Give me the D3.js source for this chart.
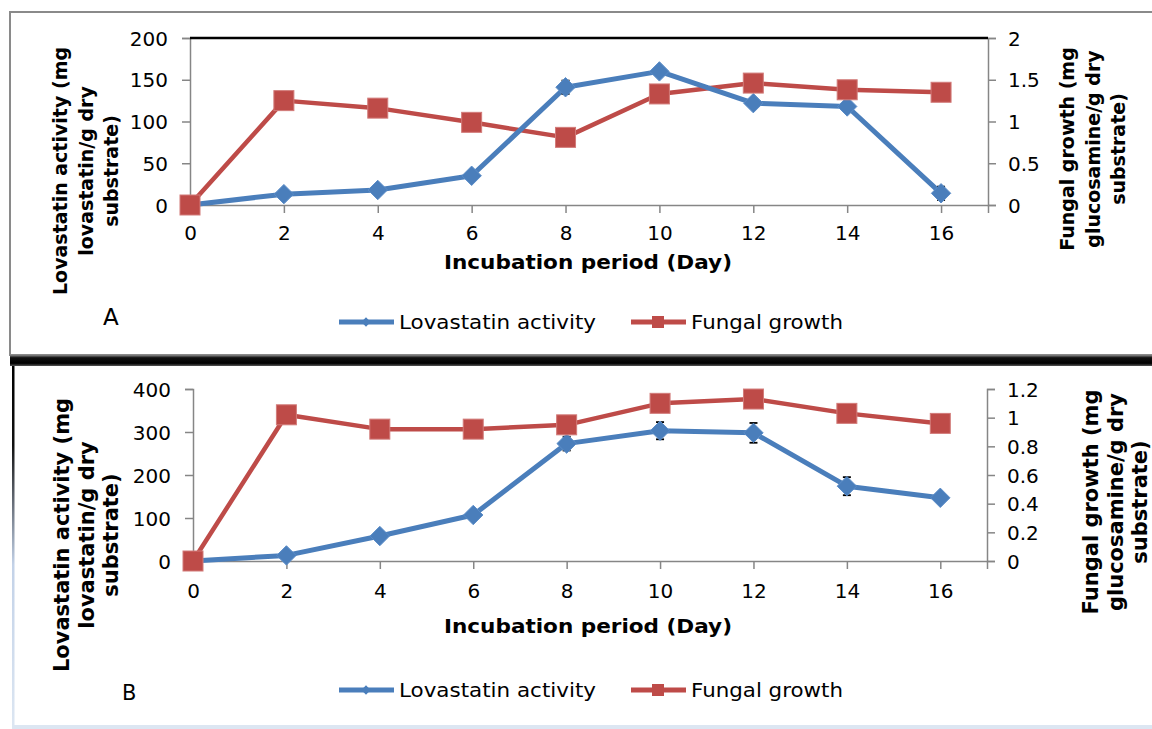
<!DOCTYPE html>
<html>
<head>
<meta charset="utf-8">
<script src="https://cdn.jsdelivr.net/npm/d3@7/dist/d3.min.js"></script>
<style>
  html, body { margin: 0; padding: 0; background: #ffffff; }
  svg { display: block; }
  text { font-family: "DejaVu Sans", Verdana, sans-serif; fill: #000; }
</style>
</head>
<body>
<svg id="chart" width="1152" height="729"></svg>
<script>
// ---- Data ----
const days = [0, 2, 4, 6, 8, 10, 12, 14, 16];
const xTicks = [0, 2, 4, 6, 8, 10, 12, 14, 16];

// Panel A
const lovastatinA = [0, 13, 18, 35, 141, 160, 122, 118, 14];
const lovastatinErrA = [0, 0, 0, 0, 8, 0, 0, 0, 8];
const fungalA = [0, 1.25, 1.16, 0.99, 0.81, 1.33, 1.46, 1.38, 1.35];
const leftTicksA = [0, 50, 100, 150, 200];
const rightTicksA = [0, 0.5, 1, 1.5, 2];

// Panel B
const lovastatinB = [0, 13, 58, 107, 273, 303, 298, 174, 147];
const lovastatinErrB = [0, 0, 0, 0, 16, 20, 23, 21, 0];
const fungalB = [0, 1.02, 0.92, 0.92, 0.95, 1.10, 1.13, 1.03, 0.96];
const leftTicksB = [0, 100, 200, 300, 400];
const rightTicksB = [0, 0.2, 0.4, 0.6, 0.8, 1, 1.2];

const seriesNames = ["Lovastatin activity", "Fungal growth"];
const xTitle = "Incubation period (Day)";
const leftTitleLines = ["Lovastatin activity (mg", "lovastatin/g dry", "substrate)"];
const rightTitleLines = ["Fungal growth (mg", "glucosamine/g dry", "substrate)"];
const panelLabels = ["A", "B"];

// ---- Styles ----
const BLUE = "#4a7ebb";
const RED = "#be4b48";
const AXIS = "#868686";

const svg = d3.select("#chart");
const defs = svg.append("defs");

// ---- Frames ----
// Panel A frame
svg.append("rect").attr("x", 10).attr("y", 12).attr("width", 1160).attr("height", 343)
  .attr("fill", "none").attr("stroke", "#8a8a8a").attr("stroke-width", 2);
const bandGrad = defs.append("linearGradient").attr("id", "band").attr("x1", 0).attr("x2", 0).attr("y1", 0).attr("y2", 1);
bandGrad.append("stop").attr("offset", "0%").attr("stop-color", "#8a8a8a");
bandGrad.append("stop").attr("offset", "25%").attr("stop-color", "#111");
bandGrad.append("stop").attr("offset", "75%").attr("stop-color", "#000");
bandGrad.append("stop").attr("offset", "100%").attr("stop-color", "#555");
svg.append("rect").attr("x", 10).attr("y", 355).attr("width", 1142).attr("height", 11).attr("fill", "url(#band)");
// Panel B frame
const leftGrad = defs.append("linearGradient").attr("id", "leftB").attr("x1", 0).attr("x2", 0).attr("y1", 0).attr("y2", 1);
leftGrad.append("stop").attr("offset", "0%").attr("stop-color", "#000");
leftGrad.append("stop").attr("offset", "22%").attr("stop-color", "#111");
leftGrad.append("stop").attr("offset", "55%").attr("stop-color", "#c3d2e8");
leftGrad.append("stop").attr("offset", "100%").attr("stop-color", "#dce6f2");
svg.append("rect").attr("x", 12).attr("y", 366).attr("width", 2.5).attr("height", 361).attr("fill", "url(#leftB)");
svg.append("rect").attr("x", 12).attr("y", 725).attr("width", 1140).attr("height", 4).attr("fill", "#dce6f2");

// ---- Panels ----
const panels = [
  {
    lov: lovastatinA, err: lovastatinErrA, fun: fungalA,
    lTicks: leftTicksA, rTicks: rightTicksA,
    left: 190, right: 988, top: 38, bottom: 205,
    topLine: true,
    tickFont: 20, titleFont: 19, titleGap: 25.5,
    leftTitleX: 60, leftTitleY: 171, rightTitleX: 1067, rightTitleY: 149,
    xLabelY: 233, xTitleY: 262, legendY: 322,
    label: panelLabels[0], labelX: 103, labelY: 325, labelFont: 23
  },
  {
    lov: lovastatinB, err: lovastatinErrB, fun: fungalB,
    lTicks: leftTicksB, rTicks: rightTicksB,
    left: 193, right: 987, top: 389, bottom: 561,
    topLine: false,
    tickFont: 20, titleFont: 21, titleGap: 24.5,
    leftTitleX: 62, leftTitleY: 535, rightTitleX: 1091, rightTitleY: 502,
    xLabelY: 591, xTitleY: 626, legendY: 690,
    label: panelLabels[1], labelX: 122, labelY: 700, labelFont: 21
  }
];

panels.forEach(p => {
  const g = svg.append("g");
  const x = d3.scaleLinear().domain([0, 17]).range([p.left, p.right]);
  const yL = d3.scaleLinear().domain([0, d3.max(p.lTicks)]).range([p.bottom, p.top]);
  const yR = d3.scaleLinear().domain([0, d3.max(p.rTicks)]).range([p.bottom, p.top]);

  // Axes
  const xAxis = d3.axisBottom(x).tickValues(xTicks).tickSize(8).tickPadding(6).tickFormat(d3.format("d"));
  const gx = g.append("g").attr("transform", `translate(0,${p.bottom})`).call(xAxis);
  const lAxis = d3.axisLeft(yL).tickValues(p.lTicks).tickSize(8).tickPadding(14).tickFormat(d3.format("d"));
  const gl = g.append("g").attr("transform", `translate(${p.left},0)`).call(lAxis);
  const rAxis = d3.axisRight(yR).tickValues(p.rTicks).tickSize(8).tickPadding(12).tickFormat(d => String(+d.toFixed(1)));
  const gr = g.append("g").attr("transform", `translate(${p.right},0)`).call(rAxis);
  [gx, gl, gr].forEach(a => {
    a.select(".domain").attr("stroke", AXIS).attr("stroke-width", 1.5);
    a.selectAll(".tick line").attr("stroke", AXIS).attr("stroke-width", 1.5);
    a.selectAll(".tick text").attr("font-size", p.tickFont).attr("fill", "#000")
      .attr("font-family", "DejaVu Sans, Verdana, sans-serif");
  });
  gx.selectAll(".tick text").attr("dy", null).attr("y", p.xLabelY - p.bottom).attr("dominant-baseline", "central");
  gl.selectAll(".tick text").attr("dy", "0.36em");
  gr.selectAll(".tick text").attr("dy", "0.36em");
  if (p.topLine) {
    g.append("line").attr("x1", p.left).attr("x2", p.right).attr("y1", p.top).attr("y2", p.top)
      .attr("stroke", "#000").attr("stroke-width", 2.5);
  }

  // Lines
  const lineL = d3.line().x((d, i) => x(days[i])).y(d => yL(d));
  const lineR = d3.line().x((d, i) => x(days[i])).y(d => yR(d));
  g.append("path").datum(p.fun).attr("d", lineR).attr("fill", "none")
    .attr("stroke", RED).attr("stroke-width", 4.5).attr("stroke-linejoin", "round");
  g.append("path").datum(p.lov).attr("d", lineL).attr("fill", "none")
    .attr("stroke", BLUE).attr("stroke-width", 5).attr("stroke-linejoin", "round");

  // Error bars (blue series)
  const eb = g.append("g").attr("stroke", "#000").attr("stroke-width", 1.8);
  p.lov.forEach((v, i) => {
    const e = p.err[i];
    if (!e) return;
    const cx = x(days[i]);
    eb.append("line").attr("x1", cx).attr("x2", cx).attr("y1", yL(v - e)).attr("y2", yL(v + e));
    eb.append("line").attr("x1", cx - 4).attr("x2", cx + 4).attr("y1", yL(v + e)).attr("y2", yL(v + e));
    eb.append("line").attr("x1", cx - 4).attr("x2", cx + 4).attr("y1", yL(v - e)).attr("y2", yL(v - e));
  });

  // Markers
  const diamond = d3.symbol().type(d3.symbolDiamond2).size(240);
  g.selectAll(".dia").data(p.lov).enter().append("path")
    .attr("d", diamond)
    .attr("transform", (d, i) => `translate(${x(days[i])},${yL(d)})`)
    .attr("fill", BLUE).attr("stroke", "#5a8cc8").attr("stroke-width", 1);
  g.selectAll(".sq").data(p.fun).enter().append("rect")
    .attr("x", (d, i) => x(days[i]) - 10).attr("y", d => yR(d) - 10)
    .attr("width", 20).attr("height", 20)
    .attr("fill", RED).attr("stroke", "#d27b79").attr("stroke-width", 1);

  // Axis titles
  const lt = g.append("text").attr("font-size", p.titleFont).attr("font-weight", "bold")
    .attr("text-anchor", "middle")
    .attr("transform", `translate(${p.leftTitleX},${p.leftTitleY}) rotate(-90)`);
  leftTitleLines.forEach((s, i) => lt.append("tspan").attr("x", 0).attr("y", i * p.titleGap).attr("dominant-baseline", "central").text(s));
  const rt = g.append("text").attr("font-size", p.titleFont).attr("font-weight", "bold")
    .attr("text-anchor", "middle")
    .attr("transform", `translate(${p.rightTitleX},${p.rightTitleY}) rotate(-90)`);
  rightTitleLines.forEach((s, i) => rt.append("tspan").attr("x", 0).attr("y", i * p.titleGap).attr("dominant-baseline", "central").text(s));

  g.append("text").attr("x", 588).attr("y", p.xTitleY).attr("text-anchor", "middle")
    .attr("dominant-baseline", "central").attr("font-size", 19).attr("font-weight", "bold")
    .attr("textLength", 288).attr("lengthAdjust", "spacingAndGlyphs").text(xTitle);

  // Legend
  const lg = g.append("g").attr("transform", `translate(0,${p.legendY})`);
  lg.append("line").attr("x1", 339).attr("x2", 394).attr("y1", 0).attr("y2", 0).attr("stroke", BLUE).attr("stroke-width", 5);
  lg.append("path").attr("d", d3.symbol().type(d3.symbolDiamond2).size(55)).attr("transform", "translate(366,0)").attr("fill", BLUE);
  lg.append("text").attr("x", 399).attr("y", 0).attr("dominant-baseline", "central").attr("font-size", 20)
    .attr("textLength", 197).attr("lengthAdjust", "spacingAndGlyphs").text(seriesNames[0]);
  lg.append("line").attr("x1", 631).attr("x2", 686).attr("y1", 0).attr("y2", 0).attr("stroke", RED).attr("stroke-width", 5);
  lg.append("rect").attr("x", 652).attr("y", -6).attr("width", 12).attr("height", 12).attr("fill", RED);
  lg.append("text").attr("x", 691).attr("y", 0).attr("dominant-baseline", "central").attr("font-size", 20)
    .attr("textLength", 152).attr("lengthAdjust", "spacingAndGlyphs").text(seriesNames[1]);

  // Panel label
  g.append("text").attr("x", p.labelX).attr("y", p.labelY).attr("font-size", p.labelFont).text(p.label);
});
</script>
</body>
</html>
